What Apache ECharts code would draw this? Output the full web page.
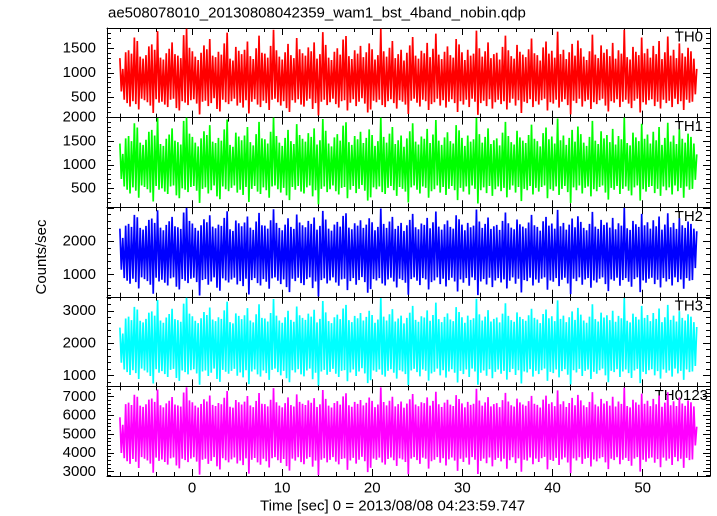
<!DOCTYPE html>
<html><head><meta charset="utf-8">
<script src="https://cdn.jsdelivr.net/npm/echarts@6/dist/echarts.min.js"></script>
<style>html,body{margin:0;padding:0;background:#fff}#c{width:717px;height:516px}</style>
</head><body><div id="c"></div>
<script>
const TITLE = 'ae508078010_20130808042359_wam1_bst_4band_nobin.qdp';
const X_TITLE = 'Time [sec] 0 = 2013/08/08 04:23:59.747';
const Y_TITLE = 'Counts/sec';
const BAND_NAMES = ['TH0', 'TH1', 'TH2', 'TH3', 'TH0123'];
const X_TICK_LABELS = [0, 10, 20, 30, 40, 50];
const Y_TICK_LABELS = [[500, 1000, 1500], [500, 1000, 1500, 2000], [1000, 2000], [1000, 2000, 3000], [3000, 4000, 5000, 6000, 7000]];
const T_START = -8, T_END = 56;

const th0 = [1300,620,1080,450,1420,380,1460,310,1390,420,1720,360,1650,250,1330,470,1290,440,1360,400,
1540,330,1580,180,1470,460,1850,390,1310,410,1270,350,1400,300,1490,450,1620,470,1380,280,
1350,230,1300,420,1770,390,1900,340,1510,440,1440,460,1330,370,1260,150,1410,410,1560,430,
1480,320,1690,380,1350,480,1320,260,1430,210,1370,450,1600,400,1820,360,1290,420,1250,470,
1530,330,1450,390,1380,290,1470,440,1640,170,1340,410,1280,460,1500,350,1760,300,1410,430,
1390,380,1310,240,1550,450,1880,470,1460,400,1330,330,1270,420,1420,280,1590,200,1360,440,
1300,390,1710,460,1480,350,1400,310,1350,430,1520,470,1440,260,1620,380,1290,130,1380,410,
1830,450,1570,340,1310,400,1260,470,1430,360,1500,290,1370,420,1680,440,1750,230,1340,390,
1280,460,1460,320,1390,410,1550,480,1320,370,1420,190,1600,250,1480,430,1270,400,1360,450,
1900,340,1440,300,1330,420,1510,460,1650,380,1300,270,1380,440,1470,410,1250,350,1410,160,
1560,430,1730,470,1350,390,1290,310,1450,450,1400,420,1610,240,1320,360,1490,400,1800,470,
1370,330,1280,440,1430,290,1540,410,1360,460,1310,380,1690,200,1580,420,1420,350,1260,450,
1470,300,1350,470,1390,410,1860,140,1500,380,1330,430,1440,320,1620,460,1300,270,1380,400,
1410,450,1270,360,1530,420,1760,250,1460,390,1340,470,1290,330,1570,440,1430,180,1370,410,
1320,380,1480,460,1700,300,1400,420,1360,350,1250,440,1520,470,1640,230,1390,400,1450,370,
1310,450,1840,290,1380,410,1470,460,1280,340,1420,150,1590,430,1350,380,1660,470,1500,310,
1330,420,1260,450,1440,260,1780,400,1370,360,1300,440,1560,470,1410,330,1480,210,1340,420,
1610,390,1290,460,1460,300,1390,410,1880,450,1320,370,1270,280,1530,430,1430,470,1360,190,
1720,400,1400,350,1490,440,1310,460,1550,320,1380,410,1650,270,1280,450,1420,380,1740,430,
1350,300,1470,470,1300,360,1600,420,1400,240,1330,450,1510,390,1440,410,1290,560,1080];

const th1 = [1450,700,1230,540,1560,470,1610,390,1500,520,1880,450,1790,300,1470,560,1420,530,1530,480,
1700,410,1740,220,1620,550,1990,470,1440,500,1400,430,1550,380,1640,540,1770,560,1510,350,
1480,290,1430,500,1930,470,2000,420,1660,530,1590,550,1470,450,1390,190,1560,490,1710,520,
1630,390,1840,460,1490,560,1460,330,1570,270,1510,540,1750,480,1960,440,1420,510,1380,560,
1680,410,1600,470,1520,360,1620,530,1800,210,1480,490,1410,550,1650,430,1910,380,1560,520,
1540,460,1450,300,1700,540,2000,560,1610,480,1470,410,1400,510,1570,350,1740,250,1500,530,
1440,470,1860,550,1630,430,1550,390,1490,520,1670,560,1590,330,1770,460,1430,160,1520,490,
1970,540,1720,420,1450,480,1390,560,1580,440,1650,370,1510,510,1830,530,1900,290,1480,470,
1420,550,1610,400,1540,490,1700,570,1460,450,1570,240,1750,310,1630,520,1400,480,1500,540,
2000,420,1590,380,1470,510,1660,550,1800,460,1440,340,1520,530,1620,490,1380,430,1560,200,
1710,520,1880,560,1490,470,1430,390,1600,540,1550,510,1760,300,1460,440,1640,480,1950,560,
1510,410,1420,530,1580,360,1690,490,1500,550,1450,460,1840,250,1730,510,1570,430,1400,540,
1620,370,1490,560,1540,490,1990,180,1650,460,1470,520,1590,400,1770,550,1440,340,1520,480,
1560,540,1410,440,1680,510,1910,310,1610,470,1480,560,1430,410,1720,530,1580,230,1510,490,
1460,460,1630,550,1850,370,1550,510,1500,430,1390,530,1670,560,1790,290,1540,480,1600,450,
1450,540,1980,360,1520,490,1620,550,1420,420,1570,190,1740,520,1490,460,1810,560,1650,390,
1470,510,1400,540,1590,330,1930,480,1510,440,1440,530,1710,560,1560,410,1630,260,1480,510,
1760,470,1430,550,1610,380,1540,490,2000,540,1460,450,1410,350,1680,520,1580,560,1500,240,
1870,480,1550,430,1640,530,1450,550,1700,400,1520,490,1800,340,1420,540,1570,460,1890,520,
1490,370,1620,560,1440,440,1750,510,1550,300,1470,540,1660,470,1590,490,1450,680,1220];

const th2 = [2380,1150,2100,900,2470,820,2520,730,2430,880,2790,780,2720,590,2400,920,2350,870,2460,810,
2640,700,2680,430,2550,910,2930,800,2410,850,2330,760,2490,680,2600,890,2730,920,2450,640,
2420,560,2370,870,2860,820,3000,750,2610,880,2530,910,2400,780,2320,380,2480,840,2660,870,
2570,700,2780,800,2440,920,2390,610,2500,520,2460,890,2700,830,2900,770,2360,860,2310,910,
2620,710,2540,810,2450,660,2560,880,2740,410,2410,840,2340,900,2590,750,2850,680,2480,870,
2470,790,2380,580,2630,890,2960,920,2550,820,2400,720,2330,860,2500,630,2690,480,2430,880,
2370,810,2800,910,2560,750,2480,690,2420,870,2610,920,2520,600,2710,800,2350,350,2460,840,
2910,890,2650,740,2380,830,2320,920,2500,770,2580,670,2440,860,2760,880,2840,540,2410,810,
2360,900,2540,700,2470,840,2630,930,2400,780,2500,460,2690,570,2570,870,2330,830,2430,900,
2980,740,2520,680,2400,860,2590,910,2730,800,2370,620,2460,880,2550,840,2310,760,2480,400,
2640,870,2820,920,2420,820,2360,690,2530,900,2490,860,2700,560,2390,780,2570,830,2890,920,
2440,720,2350,880,2510,650,2620,840,2430,910,2380,800,2780,500,2660,860,2500,760,2330,900,
2550,670,2420,920,2470,840,2950,390,2590,800,2400,870,2520,710,2710,910,2370,630,2450,830,
2490,900,2340,770,2610,860,2860,590,2540,820,2410,920,2360,730,2650,880,2510,470,2440,840,
2390,810,2560,910,2790,680,2480,860,2430,760,2320,880,2600,920,2730,550,2470,830,2530,790,
2380,900,2940,660,2450,850,2550,910,2350,740,2500,420,2680,880,2420,810,2750,920,2580,700,
2400,860,2330,900,2520,610,2880,830,2440,770,2370,880,2640,920,2490,720,2560,510,2410,860,
2700,820,2360,910,2540,670,2470,840,3000,900,2390,790,2340,640,2610,870,2510,920,2430,480,
2820,830,2480,760,2570,880,2380,910,2630,720,2450,850,2740,620,2350,900,2500,800,2840,870,
2420,680,2550,920,2370,780,2690,860,2480,580,2400,900,2590,820,2520,840,2380,1200,2300];

const th3 = [2480,1400,2300,1190,2760,1110,2820,1020,2710,1170,3120,1080,3040,900,2690,1220,2640,1160,2750,1100,
2940,990,2980,760,2850,1200,3330,1090,2700,1140,2630,1050,2790,960,2900,1180,3060,1210,2740,930,
2710,840,2660,1160,3220,1110,3400,1040,2910,1170,2830,1200,2690,1070,2620,720,2770,1130,2960,1160,
2870,990,3100,1090,2730,1220,2680,900,2800,810,2750,1180,3010,1120,3280,1060,2650,1150,2610,1210,
2920,1000,2840,1100,2740,950,2860,1170,3080,740,2700,1130,2640,1190,2890,1040,3200,970,2780,1160,
2760,1080,2670,870,2930,1180,3360,1220,2850,1110,2700,1010,2630,1150,2800,920,3000,800,2720,1170,
2660,1100,3130,1200,2860,1040,2780,980,2720,1160,2910,1220,2820,890,3030,1090,2640,700,2750,1130,
3300,1180,2950,1030,2680,1120,2620,1210,2800,1060,2880,960,2740,1150,3070,1170,3180,830,2710,1100,
2650,1190,2840,990,2770,1130,2930,1230,2700,1070,2810,770,3000,860,2870,1160,2630,1120,2730,1190,
3390,1030,2820,970,2700,1150,2890,1200,3050,1090,2670,910,2760,1170,2850,1130,2610,1050,2780,710,
2940,1160,3150,1210,2720,1110,2660,980,2830,1190,2790,1150,3010,850,2690,1070,2870,1120,3250,1220,
2740,1010,2650,1170,2810,940,2920,1130,2730,1200,2680,1090,3110,790,2960,1150,2800,1050,2630,1190,
2850,960,2720,1220,2770,1130,3370,720,2890,1090,2700,1160,2820,1000,3020,1200,2670,920,2750,1120,
2790,1190,2640,1060,2910,1150,3230,880,2840,1110,2710,1210,2660,1020,2950,1170,2810,760,2740,1130,
2690,1100,2860,1200,3060,970,2780,1150,2730,1050,2620,1170,2900,1220,3040,840,2770,1120,2830,1080,
2680,1190,3320,950,2750,1140,2850,1200,2650,1030,2800,730,2980,1170,2720,1100,3090,1210,2880,990,
2700,1150,2630,1190,2820,900,3200,1120,2740,1060,2670,1170,2940,1220,2790,1010,2860,800,2710,1150,
3000,1110,2660,1200,2840,960,2770,1130,3390,1190,2690,1080,2640,930,2910,1160,2810,1210,2730,770,
3150,1120,2780,1050,2870,1170,2680,1200,2930,1010,2750,1140,3070,910,2650,1190,2800,1090,3180,1160,
2720,970,2850,1220,2670,1070,2990,1150,2780,870,2700,1190,2890,1110,2820,1130,2650,1300,2500];

const th0123 = [5900,4000,5500,3720,6600,3560,6680,3420,6550,3680,7100,3530,6990,3200,6520,3780,6450,3690,6590,3600,
6840,3430,6900,2950,6720,3750,7380,3580,6540,3650,6430,3520,6640,3380,6780,3710,6980,3760,6580,3330,
6530,3180,6470,3690,7220,3620,7500,3510,6800,3700,6700,3770,6520,3540,6420,2850,6610,3640,6860,3690,
6740,3420,7060,3580,6560,3780,6500,3290,6660,3120,6590,3720,6940,3610,7300,3500,6460,3660,6410,3760,
6820,3440,6700,3590,6580,3350,6730,3710,7030,2900,6530,3640,6440,3730,6770,3500,7190,3370,6620,3690,
6600,3560,6480,3230,6830,3720,7450,3780,6700,3610,6520,3470,6430,3680,6650,3300,6960,3060,6550,3700,
6470,3590,7120,3770,6720,3510,6620,3400,6550,3690,6800,3780,6670,3270,6920,3590,6450,2820,6590,3640,
7350,3720,6880,3500,6520,3630,6420,3780,6660,3540,6760,3390,6570,3680,7010,3710,7180,3100,6540,3600,
6460,3740,6720,3430,6610,3640,6820,3790,6530,3560,6670,2980,6950,3210,6770,3700,6440,3630,6580,3750,
7490,3490,6710,3380,6530,3680,6780,3760,6990,3610,6480,3310,6600,3710,6740,3650,6410,3520,6630,2870,
6860,3700,7140,3780,6580,3620,6490,3420,6700,3750,6650,3690,6960,3170,6520,3560,6770,3640,7260,3780,
6590,3480,6450,3720,6680,3330,6830,3660,6570,3760,6500,3590,7080,3050,6870,3690,6640,3520,6430,3750,
6720,3380,6560,3780,6620,3640,7420,2880,6790,3580,6520,3700,6690,3450,6970,3760,6480,3290,6600,3630,
6650,3740,6440,3550,6810,3690,7200,3160,6740,3610,6540,3770,6470,3460,6890,3710,6690,3000,6580,3640,
6510,3590,6760,3760,7040,3400,6620,3700,6560,3520,6420,3720,6840,3790,7050,3130,6610,3630,6700,3570,
6490,3740,7330,3360,6590,3660,6750,3760,6450,3490,6660,2930,6930,3710,6540,3600,7090,3770,6800,3420,
6530,3690,6440,3740,6720,3280,7240,3650,6580,3550,6480,3710,6880,3780,6630,3500,6760,3140,6520,3690,
6990,3620,6470,3770,6740,3400,6610,3640,7480,3740,6500,3570,6430,3320,6830,3700,6690,3780,6570,3010,
7160,3640,6620,3530,6780,3710,6490,3760,6880,3480,6590,3670,7060,3240,6460,3750,6680,3590,7230,3700,
6540,3360,6750,3780,6500,3560,6950,3690,6630,3210,6510,3740,6800,3620,6700,3650,6480,4400,5400];

const SERIES_DATA = [th0, th1, th2, th3, th0123];
const COLORS = ['#ff0000', '#00ff00', '#0000ff', '#00ffff', '#ff00ff'];
const Y_RANGES = [[85, 1915], [100, 2000], [340, 3020], [670, 3430], [2773, 7545]];
const Y_MAJOR = [500, 500, 1000, 1000, 1000];
const Y_MINOR = [100, 100, 200, 200, 200];
const X_MIN = -9.43, X_MAX = 57.47;

const FONT = 'Liberation Sans';
const GL = 107, GR = 7, GT = 28, GH = 89.6;

function ticks(a, b, s) {
  const r = [];
  for (let k = Math.ceil(a / s - 1e-9); k * s <= b + 1e-9; k++) r.push(+(k * s).toFixed(6));
  return r;
}

const grids = [], xAxes = [], yAxes = [], series = [], graphics = [];
const black = '#000';
for (let i = 0; i < 5; i++) {
  grids.push({ left: GL, right: GR, top: GT + i * GH, height: GH, outerBoundsMode: 'none', containLabel: false });
  const xi = xAxes.length;
  const mkX = (pos, step, len, showLine, labels) => ({
    gridIndex: i, type: 'value', position: pos, min: X_MIN, max: X_MAX,
    axisLine: { show: showLine, onZero: false, lineStyle: { color: black, width: 1 } },
    axisTick: { show: true, inside: true, length: len, customValues: ticks(X_MIN, X_MAX, step), lineStyle: { color: black, width: 1 } },
    axisLabel: labels ? { show: true, customValues: X_TICK_LABELS, fontSize: 15, fontFamily: FONT, color: black, margin: 5, formatter: v => String(v) } : { show: false },
    splitLine: { show: false }
  });
  xAxes.push(mkX('bottom', 2, 4, true, i === 4));
  xAxes.push(mkX('bottom', 10, 7, false, false));
  xAxes.push(mkX('top', 2, 4, true, false));
  xAxes.push(mkX('top', 10, 7, false, false));
  const yi = yAxes.length;
  const [ymin, ymax] = Y_RANGES[i];
  const mkY = (pos, step, len, showLine, labels) => ({
    gridIndex: i, type: 'value', position: pos, min: ymin, max: ymax,
    axisLine: { show: showLine, onZero: false, lineStyle: { color: black, width: 1 } },
    axisTick: { show: true, inside: true, length: len, customValues: ticks(ymin, ymax, step), lineStyle: { color: black, width: 1 } },
    axisLabel: labels ? { show: true, customValues: Y_TICK_LABELS[i], fontSize: 15, fontFamily: FONT, color: black, margin: 11, formatter: v => String(v), hideOverlap: false } : { show: false },
    splitLine: { show: false }
  });
  yAxes.push(mkY('left', Y_MAJOR[i], 7, true, true));
  yAxes.push(mkY('left', Y_MINOR[i], 4, false, false));
  yAxes.push(mkY('right', Y_MAJOR[i], 7, true, false));
  yAxes.push(mkY('right', Y_MINOR[i], 4, false, false));

  const vals = SERIES_DATA[i];
  const n = vals.length;
  const data = vals.map((v, k) => [T_START + k * (T_END - T_START) / (n - 1), v]);
  series.push({
    type: 'line', xAxisIndex: xi, yAxisIndex: yi, data: data, showSymbol: false, symbol: 'none',
    lineStyle: { color: COLORS[i], width: 1.7 }, itemStyle: { color: COLORS[i] }, clip: true, silent: true
  });

  graphics.push({
    type: 'text', right: (i === 4 ? 9 : 14), top: GT + i * GH + 2,
    style: { text: BAND_NAMES[i], fontSize: 15, fontFamily: FONT, fill: black }
  });
}

graphics.push({ type: 'text', left: 108, top: 6, style: { text: TITLE, fontSize: 15, fontFamily: FONT, fill: black } });
graphics.push({ type: 'text', left: 260, top: 499, style: { text: X_TITLE, fontSize: 15, fontFamily: FONT, fill: black } });
graphics.push({ type: 'text', x: 42, y: 257, rotation: Math.PI / 2, style: { text: Y_TITLE, fontSize: 15, fontFamily: FONT, fill: black, align: 'center', verticalAlign: 'middle' } });

const chart = echarts.init(document.getElementById('c'), null, { renderer: 'canvas', devicePixelRatio: 2 });
chart.setOption({
  animation: false,
  backgroundColor: '#fff',
  grid: grids, xAxis: xAxes, yAxis: yAxes, series: series, graphic: graphics
});
</script></body></html>
